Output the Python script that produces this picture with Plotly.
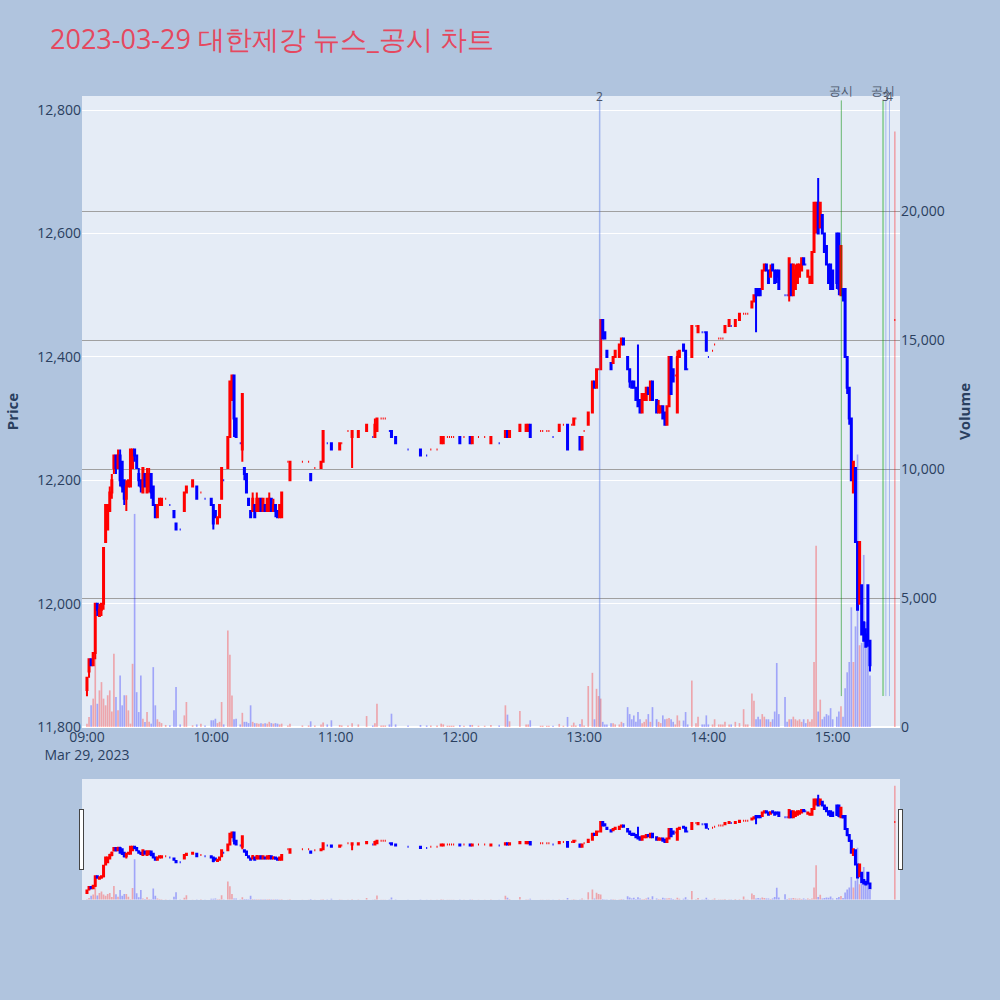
import plotly.graph_objects as go

DAY = "2023-03-29"

times = [
    # 09
    "09:00","09:01","09:02","09:03","09:04","09:05","09:06","09:07","09:08","09:09",
    "09:10","09:11","09:12","09:13","09:14","09:15","09:16","09:17","09:18","09:19",
    "09:20","09:21","09:22","09:23","09:24","09:25","09:26","09:27","09:28","09:29",
    "09:30","09:31","09:32","09:33","09:34","09:35","09:36",
    "09:38","09:40","09:42","09:43","09:45","09:47","09:48","09:51","09:53","09:55","09:57",
    # 10
    "10:00","10:01","10:02","10:03","10:04","10:05","10:06",
    "10:08","10:09","10:10","10:11","10:12",
    "10:14","10:15","10:16","10:17","10:18","10:19","10:20","10:21","10:22","10:23","10:24",
    "10:25","10:26","10:27","10:28","10:29","10:30","10:31","10:32","10:33","10:34",
    "10:37","10:38","10:44","10:47","10:48","10:50","10:53","10:54","10:56","10:58",
    # 11
    "11:02","11:03","11:06","11:08","11:11","11:15","11:18","11:19","11:20","11:22","11:23","11:24","11:26",
    "11:27","11:29","11:35","11:41","11:44","11:46","11:49","11:51","11:52","11:54","11:55","11:56","11:57",
    # 12
    "12:00","12:02","12:05","12:06","12:09","12:12","12:15","12:19","12:22","12:23","12:24","12:29","12:32","12:33",
    "12:34","12:39","12:40","12:42","12:43","12:45","12:48","12:50","12:52","12:54","12:55","12:56","12:58","12:59",
    # 13
    "13:00","13:02","13:04","13:05","13:06","13:07","13:08","13:09","13:10","13:11",
    "13:13","13:14","13:15","13:17","13:18","13:19",
    "13:21","13:22","13:23","13:24","13:25","13:26","13:27","13:28","13:29","13:30","13:31","13:32","13:33",
    "13:35","13:36","13:37","13:38","13:39","13:40","13:41","13:42","13:43","13:44","13:45","13:46",
    "13:48","13:49","13:50","13:52","13:54","13:55","13:57","13:58","13:59",
    # 14
    "14:00","14:02","14:03","14:05","14:06","14:07","14:08","14:10","14:11","14:13","14:15","14:17","14:18","14:19",
    "14:21","14:22","14:23","14:24","14:25","14:26","14:27","14:28","14:29","14:30","14:31","14:32","14:33","14:34",
    "14:37","14:38","14:39","14:40","14:41","14:42","14:43","14:44","14:45","14:46","14:47","14:48","14:49",
    "14:50","14:51","14:52","14:53","14:54","14:55","14:56","14:57","14:58","14:59",
    # 15
    "15:00","15:02","15:03","15:04","15:05","15:06","15:07","15:08","15:09","15:10",
    "15:11","15:12","15:13","15:14","15:15","15:16","15:17","15:18","15:30",
]

opens = [
    # 09
    11860,11890,11910,11900,11920,12000,11980,11990,12000,12100,
    12120,12150,12180,12220,12240,12220,12240,12230,12200,12170,
    12190,12190,12220,12250,12240,12210,12200,12180,12210,12180,
    12190,12210,12190,12160,12140,12160,12160,
    12170,12160,12150,12130,12120,12150,12180,12190,12190,12180,12170,
    # 10
    12170,12160,12150,12130,12140,12170,12200,
    12220,12270,12330,12370,12300,
    12260,12250,12220,12210,12170,12150,12150,12160,12150,12150,12170,
    12150,12160,12150,12150,12170,12150,12160,12150,12140,12140,
    12230,12200,12230,12230,12210,12220,12220,12230,12260,12260,
    # 11
    12250,12260,12280,12270,12270,12280,12270,12270,12280,12300,12300,12300,12280,
    12280,12270,12250,12250,12240,12250,12250,12260,12260,12270,12270,12270,12270,
    # 12
    12270,12270,12270,12260,12270,12270,12260,12260,12270,12280,12270,12280,12280,12280,
    12290,12280,12280,12280,12280,12270,12280,12290,12290,12290,12290,12300,12270,12250,
    # 13
    12280,12290,12310,12360,12350,12380,12380,12460,12440,12410,
    12390,12390,12400,12400,12420,12430,
    12400,12380,12360,12360,12350,12330,12330,12310,12330,12330,12350,12330,12360,
    12330,12310,12310,12320,12310,12290,12320,12400,12380,12370,12310,12400,
    12420,12410,12380,12400,12450,12440,12440,12440,12440,
    # 14
    12400,12410,12420,12430,12430,12430,12440,12450,12450,12450,12460,12470,12470,12470,
    12480,12490,12510,12510,12510,12510,12540,12550,12540,12530,12550,12540,12540,12540,
    12500,12500,12500,12550,12500,12510,12520,12530,12540,12560,12550,12530,12520,
    12520,12570,12610,12650,12610,12630,12600,12580,12550,12550,
    # 15
    12540,12600,12600,12500,12510,12510,12400,12350,12300,12180,
    12220,12100,12000,12030,11970,11950,12030,11940,12460,
]

highs = [
    # 09
    11880,11910,11910,11920,12000,12000,12000,12000,12090,12160,
    12160,12190,12210,12240,12240,12250,12250,12230,12200,12200,
    12200,12250,12250,12250,12240,12220,12200,12220,12210,12220,
    12220,12210,12190,12160,12160,12170,12170,
    12170,12160,12150,12130,12120,12180,12190,12200,12190,12180,12170,
    # 10
    12170,12160,12150,12140,12160,12220,12200,
    12270,12360,12370,12370,12300,
    12260,12340,12220,12210,12170,12150,12180,12160,12180,12170,12170,
    12170,12160,12170,12180,12170,12170,12160,12150,12160,12180,
    12230,12230,12230,12230,12210,12220,12230,12280,12260,12260,
    # 11
    12260,12260,12280,12280,12280,12290,12270,12300,12300,12300,12300,12300,12280,
    12280,12270,12250,12250,12240,12250,12250,12270,12270,12270,12270,12270,12270,
    # 12
    12270,12270,12270,12270,12270,12270,12270,12260,12280,12280,12280,12290,12290,12290,
    12290,12280,12280,12280,12280,12270,12290,12290,12290,12290,12300,12300,12270,12270,
    # 13
    12280,12310,12360,12360,12380,12380,12460,12460,12440,12410,
    12390,12400,12410,12420,12430,12430,
    12400,12380,12360,12360,12350,12420,12330,12340,12340,12350,12350,12360,12360,
    12330,12330,12320,12320,12310,12320,12400,12400,12380,12370,12410,12410,
    12420,12410,12380,12450,12450,12450,12440,12440,12440,
    # 14
    12400,12410,12420,12430,12430,12430,12450,12460,12450,12460,12470,12470,12470,12470,
    12490,12500,12510,12510,12510,12540,12550,12550,12540,12550,12550,12540,12540,12540,
    12500,12500,12560,12550,12550,12550,12550,12550,12560,12560,12550,12540,12530,
    12570,12650,12650,12690,12650,12630,12600,12580,12550,12550,
    # 15
    12540,12600,12600,12580,12510,12510,12400,12350,12300,12230,
    12220,12100,12100,12030,11970,11960,12030,11940,12460,
]

lows = [
    # 09
    11850,11880,11900,11900,11910,11980,11980,11980,11990,12100,
    12120,12150,12170,12210,12210,12220,12190,12180,12160,12150,
    12190,12190,12220,12230,12220,12190,12180,12180,12190,12180,
    12180,12170,12160,12140,12140,12160,12160,
    12170,12160,12140,12120,12120,12150,12180,12190,12170,12180,12170,
    # 10
    12160,12120,12140,12130,12140,12170,12200,
    12220,12270,12330,12270,12270,
    12260,12230,12200,12180,12160,12140,12150,12140,12150,12150,12150,
    12150,12150,12150,12150,12150,12150,12140,12140,12140,12140,
    12230,12200,12230,12230,12200,12220,12220,12230,12260,12250,
    # 11
    12250,12260,12280,12220,12270,12280,12270,12270,12280,12300,12300,12300,12280,
    12270,12260,12250,12240,12240,12250,12250,12260,12260,12270,12270,12270,12270,
    # 12
    12260,12270,12260,12260,12270,12270,12260,12260,12270,12270,12270,12280,12280,12280,
    12270,12280,12280,12280,12280,12270,12280,12290,12250,12290,12290,12300,12250,12250,
    # 13
    12280,12290,12310,12350,12350,12380,12380,12430,12430,12400,
    12380,12390,12400,12400,12420,12420,
    12380,12350,12350,12350,12330,12320,12310,12310,12330,12330,12340,12330,12330,
    12310,12310,12310,12300,12290,12290,12320,12340,12360,12370,12310,12400,
    12410,12380,12380,12400,12450,12440,12440,12440,12410,
    # 14
    12400,12410,12420,12430,12430,12430,12440,12450,12450,12450,12460,12470,12470,12470,
    12480,12490,12440,12500,12500,12510,12540,12540,12520,12530,12540,12520,12520,12510,
    12500,12500,12490,12500,12500,12510,12520,12530,12540,12550,12550,12530,12520,
    12520,12570,12600,12600,12610,12600,12570,12550,12520,12510,
    # 15
    12510,12510,12500,12500,12490,12400,12340,12290,12200,12180,
    12100,11990,12000,11950,11940,11930,11930,11890,12460,
]

closes = [
    # 09
    11880,11910,11900,11920,12000,11990,11990,12000,12090,12160,
    12160,12180,12200,12240,12220,12240,12200,12190,12170,12190,
    12200,12250,12250,12240,12220,12200,12190,12220,12190,12210,
    12210,12180,12160,12140,12160,12170,12170,
    12170,12160,12140,12120,12120,12180,12190,12200,12170,12180,12170,
    # 10
    12160,12130,12140,12140,12160,12220,12200,
    12270,12360,12370,12300,12270,
    12260,12340,12210,12180,12160,12140,12170,12140,12170,12170,12150,
    12170,12150,12170,12170,12150,12160,12150,12140,12160,12180,
    12230,12230,12230,12230,12200,12220,12230,12280,12260,12250,
    # 11
    12260,12260,12280,12280,12280,12290,12270,12290,12300,12300,12300,12300,12280,
    12270,12260,12250,12240,12240,12250,12250,12270,12270,12270,12270,12270,12270,
    # 12
    12260,12270,12260,12270,12270,12270,12270,12260,12280,12270,12280,12290,12290,12290,
    12270,12280,12280,12280,12280,12270,12290,12290,12250,12290,12300,12300,12250,12270,
    # 13
    12280,12310,12360,12350,12380,12380,12460,12430,12430,12400,
    12380,12400,12410,12420,12430,12420,
    12380,12360,12350,12350,12330,12320,12310,12340,12340,12350,12340,12360,12330,
    12310,12320,12320,12300,12290,12320,12400,12340,12360,12370,12400,12410,
    12410,12380,12380,12450,12450,12450,12440,12440,12410,
    # 14
    12400,12410,12420,12430,12430,12430,12450,12460,12450,12460,12470,12470,12470,12470,
    12490,12500,12500,12500,12500,12540,12550,12540,12520,12540,12540,12520,12530,12510,
    12500,12500,12560,12500,12550,12540,12550,12550,12560,12550,12550,12540,12530,
    12570,12650,12650,12600,12650,12600,12570,12550,12520,12510,
    # 15
    12510,12520,12510,12580,12500,12400,12350,12300,12200,12230,
    12100,11990,12100,11950,11940,11930,11940,11900,12460,
]

volumes = [
    # 09
    130,390,840,1100,2840,900,1420,1740,1100,840,
    1230,1420,600,2840,1160,645,2000,840,1230,1230,
    645,130,2450,8260,1350,580,2000,320,190,580,
    200,130,2320,840,300,200,150,
    80,65,645,1550,100,450,970,65,100,130,60,
    # 10
    260,260,320,150,200,970,100,
    3740,2800,1225,300,320,
    100,550,200,200,150,840,200,150,150,130,150,
    130,150,130,200,150,130,150,130,100,130,
    60,130,60,60,220,60,100,170,100,260,
    # 11
    80,60,60,150,100,425,60,150,900,60,60,60,100,
    515,100,60,80,60,60,60,130,100,50,50,50,50,
    # 12
    80,50,80,80,50,50,80,60,840,480,220,620,100,100,
    260,50,50,50,50,50,120,50,390,60,170,60,120,300,
    # 13
    60,1590,2100,300,1480,1200,1100,200,100,100,
    150,150,100,100,200,150,
    770,500,300,450,200,580,300,150,200,300,500,200,770,
    300,200,150,450,300,320,350,300,200,100,450,250,
    250,580,100,1800,150,400,100,100,450,
    # 14
    100,100,300,100,100,100,200,100,100,200,150,690,100,100,
    1300,1020,300,400,300,500,400,300,300,200,300,600,2480,500,
    1160,200,300,300,400,300,250,300,200,300,150,300,200,
    300,2520,7030,600,1060,300,400,500,450,730,
    # 15
    300,400,600,800,400,1500,2120,2520,4640,2520,
    3900,10560,3170,3260,6670,4070,3660,2000,23080,
]

news_times = ["13:07:30", "15:25:40", "15:27:25"]
news_labels = ["2", "3", "4"]
disclosure_times = ["15:04:10", "15:24:20"]
disclosure_labels = ["공시", "공시"]

assert len(times) == len(opens) == len(highs) == len(lows) == len(closes) == len(volumes)

x = [f"{DAY} {t}" for t in times]

# volume colours follow the candle direction (doji -> compare with previous close)
vol_colors = []
prev_c = None
up = True
for o, c in zip(opens, closes):
    if c != o:
        up = c > o
    elif prev_c is not None and c != prev_c:
        up = c > prev_c
    prev_c = c
    vol_colors.append("rgba(255,0,0,0.3)" if up else "rgba(0,0,255,0.3)")

fig = go.Figure()
fig.add_trace(go.Candlestick(
    x=x, open=opens, high=highs, low=lows, close=closes, name="Price",
    increasing=dict(line=dict(color="red", width=2), fillcolor="red"),
    decreasing=dict(line=dict(color="blue", width=2), fillcolor="blue"),
))
fig.add_trace(go.Bar(
    x=x, y=volumes, yaxis="y2", name="Volume",
    marker=dict(color=vol_colors, line=dict(width=0)),
))

shapes = []
annotations = []
for t, lab in zip(news_times, news_labels):
    y0 = 0 if lab == "2" else 0.049
    y1 = 1 if lab == "2" else 0.993
    shapes.append(dict(type="line", xref="x", yref="paper", x0=f"{DAY} {t}", x1=f"{DAY} {t}",
                       y0=y0, y1=y1, line=dict(color="rgba(65,105,225,0.4)", width=1.5 if lab == "2" else 1)))
    annotations.append(dict(x=f"{DAY} {t}", y=1.0, xref="x", yref="paper", text=lab,
                            showarrow=False, yanchor="middle", font=dict(size=12, color="#4a5568")))
for i, (t, lab) in enumerate(zip(disclosure_times, disclosure_labels)):
    shapes.append(dict(type="line", xref="x", yref="paper", x0=f"{DAY} {t}", x1=f"{DAY} {t}",
                       y0=0.049, y1=0.993,
                       line=dict(color="rgba(0,140,0,0.55)" if i == 0 else "rgba(0,160,0,0.35)",
                                 width=1 if i == 0 else 2)))
    annotations.append(dict(x=f"{DAY} {t}", y=1.009, xref="x", yref="paper", text=lab,
                            showarrow=False, yanchor="middle", font=dict(size=12, color="#4a5568")))

xr = [f"{DAY} 08:57:36", f"{DAY} 15:32:30"]
fig.update_layout(
    width=1000, height=1000,
    paper_bgcolor="lightsteelblue",
    title=dict(text="2023-03-29 대한제강 뉴스_공시 차트", x=0.05, xanchor="left",
               y=0.96, yref="container", yanchor="middle",
               font=dict(size=27, color="#e5485f")),
    margin=dict(l=80, r=100, t=96, b=100),
    showlegend=False,
    shapes=shapes,
    annotations=annotations,
    xaxis=dict(type="date", range=xr, rangeslider=dict(visible=True, range=xr),
               tickfont=dict(size=14)),
    yaxis=dict(title=dict(text="<b>Price</b>", font=dict(size=15)), range=[11800, 12823],
               tickformat=",", tickfont=dict(size=14)),
    yaxis2=dict(title=dict(text="<b>Volume</b>", font=dict(size=15)), overlaying="y", side="right",
                range=[0, 24460], tickformat=",", showgrid=True, gridcolor="#a0a0a0",
                tickfont=dict(size=14)),
)

fig.write_html("out.html", config={"displayModeBar": False},
               post_script="document.body.style.margin='0';")
